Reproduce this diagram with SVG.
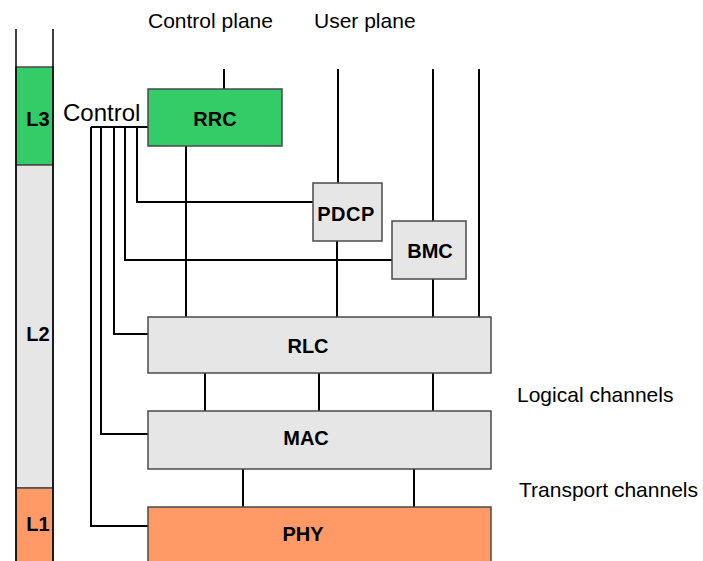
<svg xmlns="http://www.w3.org/2000/svg" width="703" height="561" viewBox="0 0 703 561">
  <style>
    .box { stroke: #4a4a4a; stroke-width: 1.5; }
    .green { fill: #33cc66; }
    .grey { fill: #e6e6e6; }
    .orange { fill: #ff9966; }
    .wire { fill: none; stroke: #000; stroke-width: 2; }
    .edge { stroke-width: 1.5; }
    .lbl { font-family: "Liberation Sans", Arial, sans-serif; font-weight: bold; font-size: 20px; fill: #000; text-anchor: middle; }
    .txt { font-family: "Liberation Sans", Arial, sans-serif; font-size: 21px; fill: #000; }
    .ctl { font-size: 24px; }
  </style>
  <rect width="703" height="561" fill="#fff"/>

  <!-- Layer column -->
  <g id="layers">
    <rect class="box green" x="16" y="67" width="37" height="98"/>
    <rect class="box grey" x="16" y="165" width="37" height="323"/>
    <rect class="box orange" x="16" y="488" width="37" height="80"/>
    <line class="wire edge" x1="16" y1="29" x2="16" y2="561"/>
    <line class="wire edge" x1="53" y1="29" x2="53" y2="561"/>
    <text class="lbl" x="38" y="126">L3</text>
    <text class="lbl" x="38" y="341">L2</text>
    <text class="lbl" x="38" y="531">L1</text>
  </g>

  <!-- Headings -->
  <text class="txt" x="148" y="28">Control plane</text>
  <text class="txt" x="314" y="28">User plane</text>
  <text class="txt ctl" x="63" y="121">Control</text>
  <text class="txt" x="517" y="402">Logical channels</text>
  <text class="txt" x="519" y="497">Transport channels</text>

  <!-- Connectors -->
  <g id="connectors">
    <!-- plane inputs -->
    <line class="wire" x1="224" y1="69" x2="224" y2="89"/>
    <line class="wire" x1="338" y1="69" x2="338" y2="183"/>
    <line class="wire" x1="433" y1="69" x2="433" y2="221"/>
    <line class="wire" x1="479" y1="69" x2="479" y2="317"/>
    <!-- down to RLC -->
    <line class="wire" x1="186" y1="146" x2="186" y2="317"/>
    <line class="wire" x1="337" y1="241" x2="337" y2="317"/>
    <line class="wire" x1="433" y1="279" x2="433" y2="317"/>
    <!-- logical channels -->
    <line class="wire" x1="205" y1="373" x2="205" y2="411"/>
    <line class="wire" x1="319" y1="373" x2="319" y2="411"/>
    <line class="wire" x1="433" y1="373" x2="433" y2="411"/>
    <!-- transport channels -->
    <line class="wire" x1="243" y1="469" x2="243" y2="507"/>
    <line class="wire" x1="414" y1="469" x2="414" y2="507"/>
    <!-- control bus from RRC -->
    <line class="wire" x1="91" y1="127" x2="148" y2="127"/>
    <polyline class="wire" points="137,127 137,202 313,202"/>
    <polyline class="wire" points="125,127 125,260 392,260"/>
    <polyline class="wire" points="114,127 114,334 148,334"/>
    <polyline class="wire" points="101,127 101,434 148,434"/>
    <polyline class="wire" points="91,127 91,526 148,526"/>
  </g>

  <!-- Protocol entities -->
  <g id="rrc">
    <rect class="box green" x="148" y="89" width="134" height="57"/>
    <text class="lbl" x="215" y="126">RRC</text>
  </g>
  <g id="pdcp">
    <rect class="box grey" x="313" y="183" width="69" height="58"/>
    <text class="lbl" x="346" y="221" letter-spacing="0.5">PDCP</text>
  </g>
  <g id="bmc">
    <rect class="box grey" x="392" y="221" width="74" height="58"/>
    <text class="lbl" x="430" y="258">BMC</text>
  </g>
  <g id="rlc">
    <rect class="box grey" x="148" y="317" width="343" height="56"/>
    <text class="lbl" x="308" y="353">RLC</text>
  </g>
  <g id="mac">
    <rect class="box grey" x="148" y="411" width="343" height="58"/>
    <text class="lbl" x="306" y="445">MAC</text>
  </g>
  <g id="phy">
    <rect class="box orange" x="148" y="507" width="343" height="60"/>
    <text class="lbl" x="303" y="541">PHY</text>
  </g>
</svg>
